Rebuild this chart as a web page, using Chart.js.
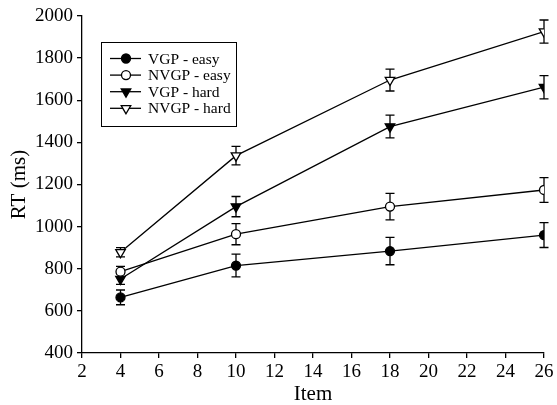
<!DOCTYPE html>
<html>
<head>
<meta charset="utf-8">
<script src="https://cdn.jsdelivr.net/npm/chart.js@4"></script>
<style>
  html, body { margin: 0; padding: 0; background: #fff; }
  #wrap { width: 557px; height: 405px; }
</style>
</head>
<body>
<div id="wrap"><canvas id="myChart" width="557" height="405"></canvas></div>
<script>
var items = [4, 10, 18, 26];
var seriesNames = ['VGP - easy', 'NVGP - easy', 'VGP - hard', 'NVGP - hard'];
var vgpEasy = [664, 815, 884, 960];
var nvgpEasy = [786, 964, 1095, 1174];
var vgpHard = [751, 1095, 1475, 1662];
var nvgpHard = [878, 1337, 1696, 1926];
var vgpEasyErr = [35, 54, 65, 59];
var nvgpEasyErr = [25, 50, 63, 59];
var vgpHardErr = [25, 48, 54, 55];
var nvgpHardErr = [22, 44, 52, 55];
var yTicks = [400, 600, 800, 1000, 1200, 1400, 1600, 1800, 2000];
var xTicks = [2, 4, 6, 8, 10, 12, 14, 16, 18, 20, 22, 24, 26];

var FONT = "'Liberation Serif', 'Times New Roman', serif";

function makeSet(i, vals, errs, style, filled) {
    return {
        label: seriesNames[i],
        data: items.map(function (x, k) { return { x: x, y: vals[k] }; }),
        errors: errs,
        borderColor: '#000',
        borderWidth: 1.3,
        backgroundColor: filled ? '#000' : '#fff',
        pointBackgroundColor: filled ? '#000' : '#fff',
        pointBorderColor: '#000',
        pointBorderWidth: 1.3,
        pointStyle: style,
        pointRotation: style === 'triangle' ? 180 : 0,
        pointRadius: style === 'triangle' ? 5.5 : 4.5,
        tension: 0
    };
}

var Data = {
    datasets: [
        makeSet(0, vgpEasy, vgpEasyErr, 'circle', true),
        makeSet(1, nvgpEasy, nvgpEasyErr, 'circle', false),
        makeSet(2, vgpHard, vgpHardErr, 'triangle', true),
        makeSet(3, nvgpHard, nvgpHardErr, 'triangle', false)
    ]
};

// error bars, drawn under the markers
var errorBars = {
    id: 'errorBars',
    beforeDatasetsDraw: function (chart) {
        var ctx = chart.ctx, xs = chart.scales.x, ys = chart.scales.y;
        ctx.save();
        ctx.strokeStyle = '#000';
        ctx.lineWidth = 1.3;
        chart.data.datasets.forEach(function (ds) {
            ds.data.forEach(function (p, k) {
                var px = xs.getPixelForValue(p.x);
                var top = ys.getPixelForValue(p.y + ds.errors[k]);
                var bot = ys.getPixelForValue(p.y - ds.errors[k]);
                ctx.beginPath();
                ctx.moveTo(px, top); ctx.lineTo(px, bot);
                ctx.moveTo(px - 4.5, top); ctx.lineTo(px + 4.5, top);
                ctx.moveTo(px - 4.5, bot); ctx.lineTo(px + 4.5, bot);
                ctx.stroke();
            });
        });
        ctx.restore();
    }
};

// boxed legend with line + marker samples
var boxLegend = {
    id: 'boxLegend',
    afterDraw: function (chart) {
        var ctx = chart.ctx;
        var bx = 101, by = 42, bw = 135, bh = 84;
        ctx.save();
        ctx.strokeStyle = '#000';
        ctx.lineWidth = 1;
        ctx.strokeRect(bx + 0.5, by + 0.5, bw, bh);
        ctx.font = '15.5px ' + FONT;
        ctx.textBaseline = 'middle';
        ctx.fillStyle = '#000';
        chart.data.datasets.forEach(function (ds, i) {
            var y = 58.5 + i * 16.6;
            ctx.lineWidth = 1.3;
            ctx.beginPath();
            ctx.moveTo(110, y); ctx.lineTo(141, y);
            ctx.stroke();
            ctx.fillStyle = ds.pointBackgroundColor;
            Chart.helpers.drawPoint(ctx, {
                pointStyle: ds.pointStyle,
                rotation: ds.pointRotation,
                radius: ds.pointRadius,
                borderWidth: 1.3
            }, 126, y);
            ctx.fillStyle = '#000';
            ctx.fillText(ds.label, 148, y + 1);
        });
        ctx.restore();
    }
};

window.onload = function () {
    var ctx = document.getElementById('myChart').getContext('2d');
    window.myChart = new Chart(ctx, {
        type: 'line',
        data: Data,
        plugins: [errorBars, boxLegend],
        options: {
            responsive: false,
            animation: false,
            layout: { padding: { top: 16, right: 13, left: 0, bottom: 0 } },
            plugins: {
                legend: { display: false },
                tooltip: { enabled: false }
            },
            scales: {
                x: {
                    type: 'linear',
                    min: 2, max: 26,
                    afterBuildTicks: function (s) { s.ticks = xTicks.map(function (v) { return { value: v }; }); },
                    afterFit: function (s) { s.height = 52; },
                    grid: { drawOnChartArea: false, drawTicks: true, tickLength: 5, color: '#000', lineWidth: 1.3 },
                    border: { display: true, color: '#000', width: 1.3 },
                    ticks: {
                        color: '#000', padding: 3, maxRotation: 0,
                        font: { family: FONT, size: 19 },
                        callback: function (v) { return String(v); }
                    },
                    title: { display: true, text: 'Item', color: '#000', padding: { top: 0, bottom: 0 }, font: { family: FONT, size: 21, lineHeight: 1.0 } }
                },
                y: {
                    min: 400, max: 2000,
                    afterBuildTicks: function (s) { s.ticks = yTicks.map(function (v) { return { value: v }; }); },
                    afterFit: function (s) { s.width = 82; },
                    grid: { drawOnChartArea: false, drawTicks: true, tickLength: 5, color: '#000', lineWidth: 1.3 },
                    border: { display: true, color: '#000', width: 1.3 },
                    ticks: {
                        color: '#000', padding: 4,
                        font: { family: FONT, size: 19 },
                        callback: function (v) { return String(v); }
                    },
                    title: { display: true, text: 'RT (ms)', color: '#000', padding: { top: 6.5, bottom: 0 }, font: { family: FONT, size: 21 } }
                }
            }
        }
    });
};
</script>
</body>
</html>
